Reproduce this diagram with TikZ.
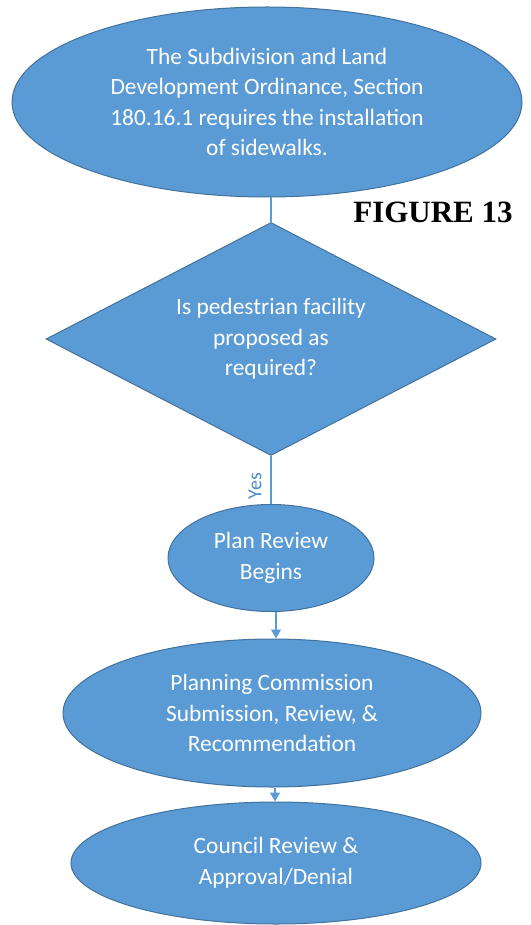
\documentclass[tikz,border=0pt]{standalone}
\usepackage{fontspec}
\setmainfont{Carlito}
\newfontfamily\timesfont{Liberation Serif}
\usetikzlibrary{shapes.geometric,arrows.meta}
\definecolor{boxfill}{HTML}{5B9BD5}
\definecolor{boxline}{HTML}{41719C}
\definecolor{connline}{HTML}{5B9BD5}
\definecolor{yestext}{HTML}{4A8BCB}
\tikzset{
  flowbox/.style={fill=boxfill,draw=boxline,line width=1pt,inner sep=0pt,text=white,align=center,
    font=\fontsize{23.4}{30.5}\selectfont},
  ovalbox/.style={flowbox,ellipse},
  decisionbox/.style={flowbox,diamond},
  connector/.style={draw=connline,line width=1.3pt},
  arrowconn/.style={connector,-{Triangle[length=9pt,width=10pt]}},
}
\begin{document}
\begin{tikzpicture}[x=1pt,y=-1pt]
\useasboundingbox (0,0) rectangle (530,925);
\node[ovalbox,minimum width=510pt,minimum height=190pt] (ord) at (267,102)
  {The Subdivision and Land\\Development Ordinance, Section\\180.16.1 requires the installation\\of sidewalks.};
\node[font=\timesfont\bfseries\fontsize{31}{36}\selectfont,inner sep=0pt] (fig) at (433,212) {FIGURE 13};
\node[decisionbox,minimum width=450pt,minimum height=233pt,aspect=1.93] (dec) at (271,339)
  {Is pedestrian facility\\proposed as\\required?};
\node[ovalbox,minimum width=206pt,minimum height=107pt] (plan) at (271,558)
  {Plan Review\\Begins};
\node[ovalbox,minimum width=418pt,minimum height=148pt] (pc) at (272,713)
  {Planning Commission\\Submission, Review, \&\\Recommendation};
\node[ovalbox,minimum width=410pt,minimum height=122pt] (cc) at (276,863)
  {Council Review \&\\Approval/Denial};
\draw[connector] (ord.south -| dec.north) -- (dec.north);
\draw[connector] (dec.south) -- (plan.north);
\node[text=yestext,rotate=90,font=\fontsize{20}{24}\selectfont,inner sep=0pt] (yes) at (255,486) {Yes};
\draw[arrowconn] ([xshift=5pt]plan.south) -- ([xshift=4pt]pc.north);
\draw[arrowconn] ([xshift=3pt]pc.south) -- ([xshift=-1pt]cc.north);
\end{tikzpicture}
\end{document}
